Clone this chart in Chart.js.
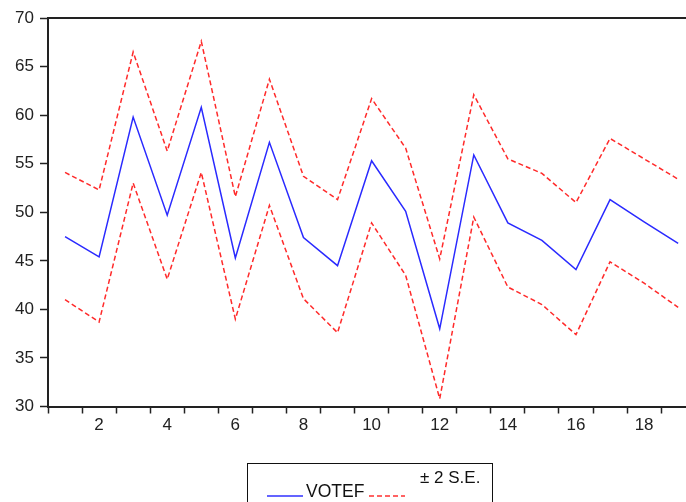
<!DOCTYPE html>
<html lang="en">
<head>
    <meta charset="UTF-8">
    <title>VOTEF ± 2 S.E.</title>
    <script src="https://cdn.jsdelivr.net/npm/chart.js"></script>
    <style>
        body { margin: 0; background: #fff; }
        .chart-container { position: relative; width: 686px; height: 502px; }
        .legend {
            position: absolute; left: 247px; top: 463px; width: 246px; height: 50px;
            border: 1.5px solid #111; box-sizing: border-box;
            font-family: "Liberation Sans", Arial, sans-serif; color: #111;
        }
        .legend span { position: absolute; white-space: nowrap; }
        .legend svg { position: absolute; }
    </style>
</head>
<body>
    <div class="chart-container">
        <canvas id="chart1"></canvas>
        <div class="legend">
            <svg style="left:19px; top:30px" width="37" height="4"><line x1="0" y1="2" x2="36" y2="2" stroke="#3030ff" stroke-width="1.4"/></svg>
            <span style="left:58px; top:17px; font-size:17.5px">VOTEF</span>
            <svg style="left:121px; top:30px" width="37" height="4"><line x1="0" y1="2" x2="36" y2="2" stroke="#ff3030" stroke-width="1.4" stroke-dasharray="5,3"/></svg>
            <span style="left:172px; top:4px; font-size:17px">± 2 S.E.</span>
        </div>
    </div>

    <script>
        const periods = [1, 2, 3, 4, 5, 6, 7, 8, 9, 10, 11, 12, 13, 14, 15, 16, 17, 18, 19];
        const votef = [47.5, 45.4, 59.8, 49.7, 60.8, 45.3, 57.2, 47.4, 44.5, 55.3, 50.1, 38.0, 55.9, 48.9, 47.1, 44.1, 51.3, 49.0, 46.8];
        const upper = [54.1, 52.3, 66.5, 56.3, 67.6, 51.6, 63.7, 53.7, 51.3, 61.7, 56.6, 45.2, 62.1, 55.5, 54.0, 51.0, 57.6, 55.5, 53.4];
        const lower = [41.0, 38.7, 53.0, 43.1, 54.1, 39.0, 50.7, 41.1, 37.6, 48.9, 43.5, 30.8, 49.5, 42.3, 40.5, 37.4, 44.9, 42.7, 40.2];
        const yTicks = [30, 35, 40, 45, 50, 55, 60, 65, 70];

        const toPoints = values => values.map((v, i) => ({ x: periods[i], y: v }));

        // top frame line, the axes draw left and bottom
        const frameTop = {
            id: 'frameTop',
            afterDraw(chart) {
                const { ctx, chartArea } = chart;
                ctx.save();
                ctx.strokeStyle = '#222';
                ctx.lineWidth = 2;
                ctx.beginPath();
                ctx.moveTo(chartArea.left, chartArea.top);
                ctx.lineTo(chart.width, chartArea.top);
                ctx.stroke();
                ctx.restore();
            }
        };

        const font = { family: '"Liberation Sans", Arial, sans-serif', size: 17 };

        new Chart(document.getElementById('chart1'), {
            type: 'line',
            data: {
                datasets: [
                    { label: 'VOTEF', data: toPoints(votef), borderColor: '#2a2aff', borderWidth: 1.5 },
                    { label: '+2 S.E.', data: toPoints(upper), borderColor: '#ff2a2a', borderWidth: 1.5, borderDash: [5, 3] },
                    { label: '-2 S.E.', data: toPoints(lower), borderColor: '#ff2a2a', borderWidth: 1.5, borderDash: [5, 3] }
                ]
            },
            options: {
                responsive: true,
                maintainAspectRatio: false,
                animation: false,
                layout: { padding: { top: 18, left: 0, right: 0, bottom: 0 } },
                elements: { point: { radius: 0 }, line: { tension: 0 } },
                plugins: { legend: { display: false }, tooltip: { enabled: false } },
                scales: {
                    x: {
                        type: 'linear',
                        min: 0.5,
                        max: 19.23,
                        afterFit(scale) { scale.height = 95.5; },
                        afterBuildTicks(scale) {
                            const t = [];
                            for (let v = 0.5; v <= 19.23; v += 0.5) t.push({ value: v });
                            scale.ticks = t;
                        },
                        border: { display: true, color: '#222', width: 2 },
                        grid: {
                            drawOnChartArea: false,
                            tickLength: 7,
                            tickWidth: 1.5,
                            tickColor: ctx => (ctx.tick && Number.isInteger(ctx.tick.value)) ? 'rgba(0,0,0,0)' : '#222'
                        },
                        ticks: {
                            autoSkip: false,
                            maxRotation: 0,
                            padding: 2,
                            color: '#222',
                            font: font,
                            callback: v => (Number.isInteger(v) && v % 2 === 0) ? String(v) : ''
                        }
                    },
                    y: {
                        min: 30,
                        max: 70,
                        afterFit(scale) { scale.width = 48; },
                        afterBuildTicks(scale) { scale.ticks = yTicks.map(v => ({ value: v })); },
                        border: { display: true, color: '#222', width: 2 },
                        grid: { drawOnChartArea: false, tickLength: 8, tickWidth: 1.5, tickColor: '#222' },
                        ticks: { padding: 6, color: '#222', font: font }
                    }
                }
            },
            plugins: [frameTop]
        });
    </script>
</body>
</html>
